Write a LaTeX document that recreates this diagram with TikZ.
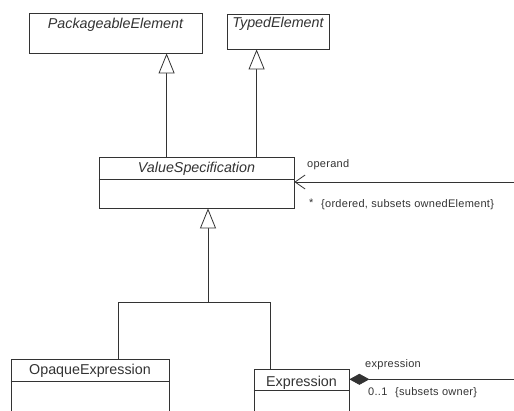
\documentclass[tikz,border=0pt]{standalone}
\usepackage{fontspec}
\setmainfont{Liberation Sans}
\usetikzlibrary{arrows.meta,calc}
\definecolor{ink}{gray}{0.2}
\begin{document}
\begin{tikzpicture}[x=1pt,y=-1pt,
  cls/.style={draw=ink,line width=0.8pt,rectangle,inner sep=0pt,fill=white},
  title/.style={anchor=base,inner sep=0pt,text=ink,font=\fontsize{14.3}{16}\selectfont},
  atitle/.style={title,font=\fontsize{14.3}{16}\selectfont\itshape},
  role/.style={anchor=base west,inner sep=0pt,text=ink,font=\fontsize{11}{12}\selectfont\addfontfeature{LetterSpace=2.5}},
  line/.style={draw=ink,line width=0.8pt},
  gen/.style={line,-{Triangle[open,length=20pt,width=16pt,fill=white]}},
  nav/.style={line,-{Straight Barb[length=10pt,width=14pt,line width=0.8pt]}},
  comp/.style={line,-{Diamond[length=20pt,width=11pt,fill=ink]}}]
\useasboundingbox (0,0) rectangle (514,410);
\clip (0,0) rectangle (514,410);

% classes
\node[cls,minimum width=173pt,minimum height=40pt] (pe) at (115.5,33) {};
\node[atitle] at ([yshift=-16.3pt]pe.north) {PackageableElement};

\node[cls,minimum width=102pt,minimum height=35pt] (te) at (278,31.5) {};
\node[atitle] at ([yshift=-14.3pt]te.north) {TypedElement};

\node[cls,minimum width=195pt,minimum height=51pt] (vs) at (196.5,182.5) {};
\node[atitle] at ([yshift=-16.3pt]vs.north) {ValueSpecification};
\draw[line] ([yshift=-23pt]vs.north west) -- ([yshift=-23pt]vs.north east);

\node[cls,minimum width=158pt,minimum height=60pt] (oe) at (90,389) {};
\node[title] at ([yshift=-16pt]oe.north) {OpaqueExpression};
\draw[line] ([yshift=-23pt]oe.north west) -- ([yshift=-23pt]oe.north east);

\node[cls,minimum width=95pt,minimum height=50pt] (ex) at (301.5,394) {};
\node[title] at ([yshift=-17.5pt]ex.north) {Expression};
\draw[line] ([yshift=-22pt]ex.north west) -- ([yshift=-22pt]ex.north east);

% generalizations
\draw[gen] ([xshift=68pt]vs.north west) -- ([xshift=68pt]vs.north west |- pe.south);
\draw[gen] ([xshift=30pt]te.south west |- vs.north) -- ([xshift=30pt]te.south west);
\coordinate (j) at (208,302);
\draw[line] ([xshift=108pt]oe.north west) |- ([xshift=17pt]ex.north west |- j) -- ([xshift=17pt]ex.north west);
\draw[gen] (j) -- (j |- vs.south);

% operand association
\coordinate (opEnd) at (514,182);
\draw[nav] (opEnd) -- (opEnd -| vs.east);
\node[role] at (307,167.3) {operand};
\node[role] at (309,206) {*};
\node[role] at (321,207.7) {\{ordered, subsets ownedElement\}};

% expression composition
\coordinate (exEnd) at (514,379.3);
\draw[comp] (exEnd) -- (exEnd -| ex.east);
\node[role] at (365,367.3) {expression};
\node[role] at (368,395) {0..1};
\node[role] at (395,395) {\{subsets owner\}};
\end{tikzpicture}
\end{document}
